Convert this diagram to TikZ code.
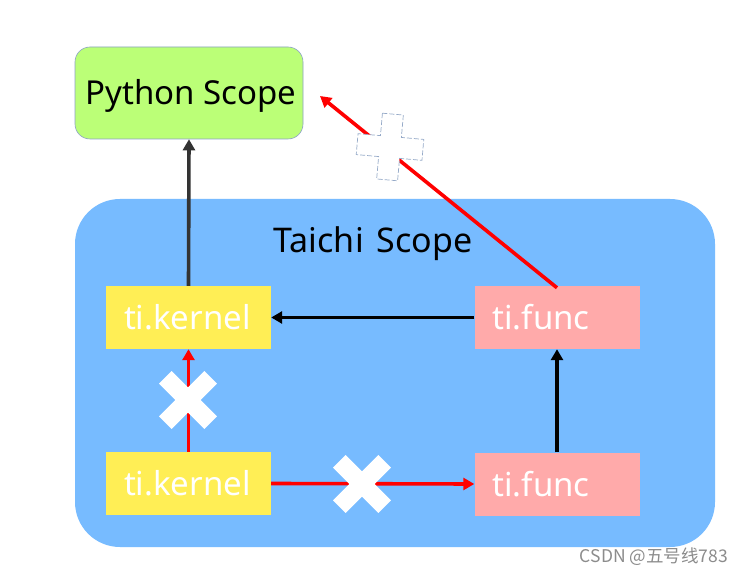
\documentclass[tikz,border=0pt]{standalone}
\usepackage{fontspec}
\setmainfont{Noto Sans}
\newfontfamily\cjk{Noto Sans CJK SC}
\usetikzlibrary{arrows.meta}
\definecolor{pygreen}{RGB}{187,255,119}
\definecolor{pyedge}{RGB}{140,160,200}
\definecolor{tblue}{RGB}{119,187,255}
\definecolor{kyellow}{RGB}{255,238,85}
\definecolor{fpink}{RGB}{255,170,170}
\definecolor{arrred}{RGB}{255,0,0}
\definecolor{arrgrey}{RGB}{51,51,51}
\definecolor{dashblue}{RGB}{150,170,200}
\definecolor{wmgrey}{RGB}{140,140,140}
\tikzset{
  bigtxt/.style={font=\fontsize{33}{40}\selectfont},
  pybox/.style={draw=pyedge, line width=0.6pt, fill=pygreen, rounded corners=15pt,
    minimum width=228pt, minimum height=92pt, inner sep=0pt, bigtxt},
  taichibox/.style={fill=tblue, rounded corners=45pt,
    minimum width=640pt, minimum height=348pt, inner sep=0pt},
  tibox/.style={text=white, inner xsep=18pt, inner ysep=0pt, text width=129pt,
    align=left, minimum height=63pt, bigtxt},
  kbox/.style={tibox, fill=kyellow},
  fbox/.style={tibox, fill=fpink},
  arr/.style={line width=3.6pt, -{Triangle[length=11pt,width=12pt]}},
  blkarrow/.style={arr, black},
  greyarrow/.style={arr, arrgrey},
  redarrow/.style={arr, arrred},
}
\newcommand\crosspoly[2]{% half-width, half-length
  (-#1,-#2) -- (#1,-#2) -- (#1,-#1) -- (#2,-#1) -- (#2,#1) -- (#1,#1) -- (#1,#2) -- (-#1,#2) -- (-#1,#1) -- (-#2,#1) -- (-#2,-#1) -- (-#1,-#1) -- cycle}
\begin{document}
\begin{tikzpicture}[x=1pt,y=-1pt]
\useasboundingbox (0,0) rectangle (742,577);
\fill[white] (0,0) rectangle (742,577);

\node[taichibox] (taichi) at (395,373) {};
\node[pybox, text depth=2pt] (py) at (189,93) {\hspace*{4pt}Python Scope};
\node[bigtxt, font=\fontsize{34}{40}\selectfont] (tlabel) at (373,244) {Taichi\hspace{13pt}Scope};

\node[kbox] (k1) at (188.5,317.5) {ti.kernel};
\node[fbox] (f1) at (557,317.5) {ti.func};
\node[kbox] (k2) at (188.5,483.5) {ti.kernel};
\node[fbox] (f2) at (557,484) {ti.func};

\coordinate (pyend) at (320,96);

\draw[blkarrow] (f1.west) -- (k1.east);
\draw[blkarrow] (f2.north) -- (f1.south);
\draw[greyarrow] (k1.north) -- (py.south);
\draw[redarrow] (k2.north) -- (k1.south);
\draw[redarrow] (k2.east) -- (f2.west);
\draw[redarrow] ([yshift=-2pt]f1.north) -- (pyend);

\fill[white, shift={(188,400)}, rotate=45] \crosspoly{9}{32};
\fill[white, shift={(362,484)}, rotate=45] \crosspoly{9}{32};
\filldraw[fill=white, draw=dashblue, line width=0.7pt, dash pattern=on 5pt off 2pt,
  shift={(390,147)}, rotate=-5] \crosspoly{10.5}{33};

\node[font=\cjk\fontsize{17.5}{21}\selectfont, text=wmgrey, anchor=east, inner sep=0pt] (wm) at (728,557) {CSDN @五号线783};
\end{tikzpicture}
\end{document}
